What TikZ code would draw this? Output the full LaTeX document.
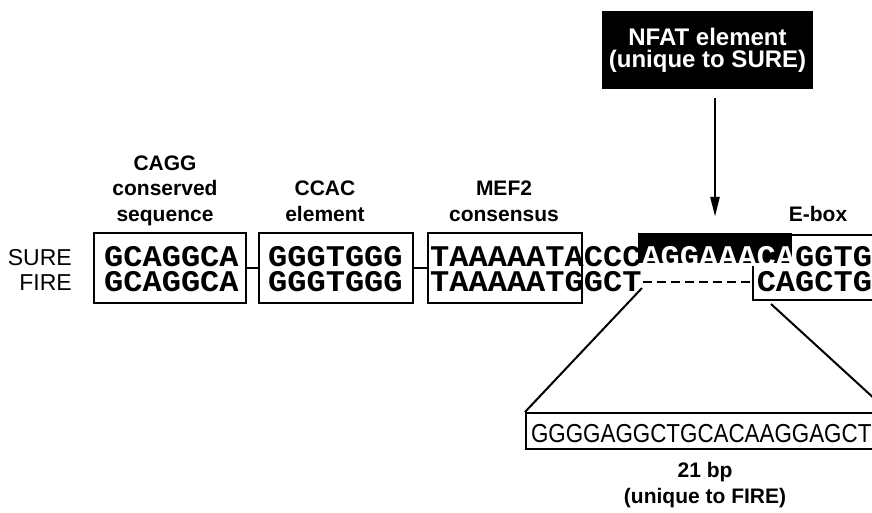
\documentclass[tikz,border=0pt]{standalone}
\usepackage{fontspec}
\setmainfont{Liberation Sans}
\newfontfamily\seqfont[FakeStretch=1.067]{Liberation Mono}
\newfontfamily\insfont[FakeStretch=0.86]{Liberation Sans}
\usetikzlibrary{arrows.meta,positioning}

\begin{document}
\begin{tikzpicture}[x=1pt,y=-1pt,
  every node/.append style={inner sep=0pt},
  elbox/.style={draw=black,line width=2pt,minimum height=70pt},
  seqrow/.style={anchor=north west,align=left,font=\seqfont\bfseries\fontsize{30}{25}\selectfont},
  elname/.style={anchor=north,align=center,font=\bfseries\fontsize{21}{25.5}\selectfont},
  strain/.style={anchor=north east,align=right,font=\fontsize{23}{25}\selectfont},
  link/.style={line width=2pt}]
\useasboundingbox (0,0) rectangle (872,513);
\clip (0,0) rectangle (872,513);
\node (nfat) [fill=black,text=white,minimum width=211pt,minimum height=78pt,align=center,font=\bfseries\fontsize{24}{22}\selectfont] at (707.5,50) {NFAT element\\(unique to SURE)};
\node (caggname) [elname] at (165,155.5) {CAGG\\conserved\\sequence};
\node (ccacname) [elname] at (325,181) {CCAC\\element};
\node (mefname) [elname] at (504,181) {MEF2\\consensus};
\node (eboxname) [elname] at (818,206) {E-box};
\node (cagg) [elbox,minimum width=152pt] at (170,268) {};
\node (ccac) [elbox,minimum width=154pt] at (336,268) {};
\node (mef) [elbox,minimum width=154pt] at (505,268) {};
\node (ebox) [elbox,minimum width=134pt,minimum height=65pt] at (820,267.5) {};
\node (nfatseq) [fill=black,minimum width=154pt,minimum height=30pt] at (715,248) {};
\node (strains) [strain] at (72,249.5) {SURE\\FIRE};
\node (caggseq) [seqrow] at (104,246.5) {GCAGGCA\\GCAGGCA};
\node (ccacseq) [seqrow] at (268,246.5) {GGGTGGG\\GGGTGGG};
\node (mefseq) [seqrow] at (430,246.5) {TAAAAATACCC\textcolor{white}{AGGAAACA}GGTG\\TAAAAATGGCT\hphantom{AGGAAA}CAGCTG};
\draw [link] (cagg) -- (ccac);
\draw [link] (ccac) -- (mef);
\coordinate (gapL) at (643,282);
\draw [link,dash pattern=on 9pt off 5pt] (gapL) -- (gapL -| ebox.west);
\draw [line width=2.5pt,-{Triangle[length=20pt,width=9pt]}] ([yshift=-9pt]nfat.south -| nfatseq.north) -- ([yshift=16pt]nfatseq.north);
\node (fire21) [draw,line width=2pt,anchor=north west,text width=352pt,inner xsep=5pt,inner ysep=6.7pt,text height=22.6pt,text depth=0pt,align=left,font=\insfont\fontsize{26}{26}\selectfont] at (525,412) {GGGGAGGCTGCACAAGGAGCT};
\coordinate (cutL) at (642,288);
\coordinate (cutR) at (771,304);
\draw [link] (cutL) -- (fire21.north west);
\draw [link] (cutR) -- (fire21.north east);
\node (fire21name) [elname] at (705,462.5) {21 bp\\(unique to FIRE)};
\end{tikzpicture}
\end{document}
